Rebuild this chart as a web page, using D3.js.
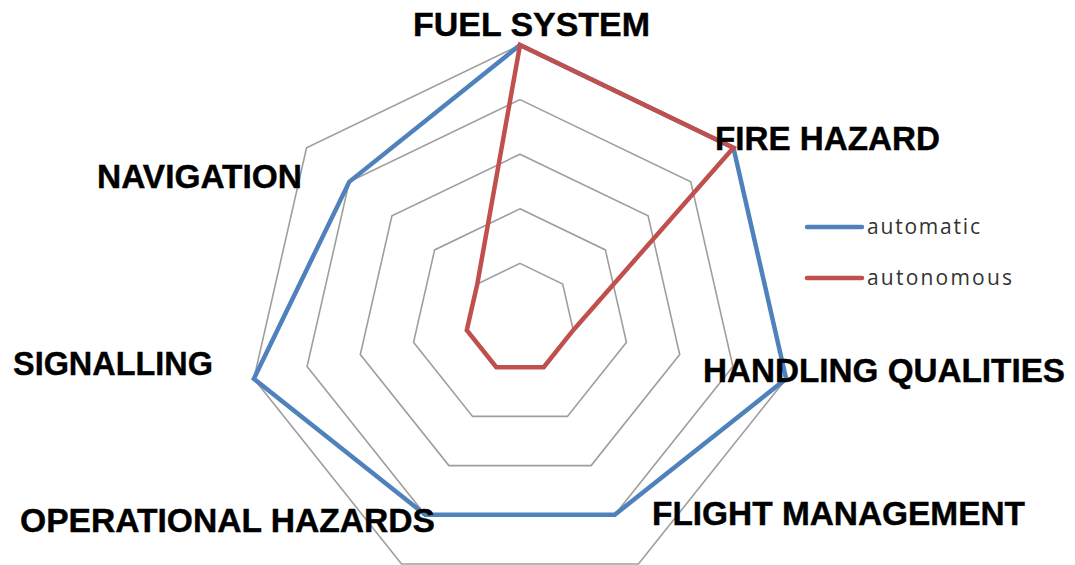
<!DOCTYPE html>
<html>
<head>
<meta charset="utf-8">
<script src="https://cdn.jsdelivr.net/npm/d3@7"></script>
<style>
  html, body { margin: 0; padding: 0; background: #ffffff; }
  svg { display: block; }
</style>
</head>
<body>
<svg id="chart" width="1075" height="565"></svg>
<script>
// Radar chart data: one value per axis, on a 0–5 scale
const categories = [
  "FUEL SYSTEM",
  "FIRE HAZARD",
  "HANDLING QUALITIES",
  "FLIGHT MANAGEMENT",
  "OPERATIONAL HAZARDS",
  "SIGNALLING",
  "NAVIGATION"
];
const seriesNames = ["automatic", "autonomous"];
const automatic = [5, 5, 5, 4, 4, 5, 4];
const autonomous = [5, 5, 1, 1, 1, 1, 1];
const gridLevels = [1, 2, 3, 4, 5];

// Layout
const width = 1075, height = 565;
const cx = 520, cy = 318, radius = 273;
const colors = { automatic: "#4F81BD", autonomous: "#C0504D" };

// Axis label placement: start x, baseline y, rendered width
const labelLayout = [
  { x: 413, y: 36, w: 237 },
  { x: 715, y: 150, w: 225 },
  { x: 703, y: 382, w: 362 },
  { x: 652, y: 525, w: 373 },
  { x: 20, y: 532, w: 415 },
  { x: 13, y: 375, w: 200 },
  { x: 97, y: 188, w: 205 }
];

const svg = d3.select("#chart");

const r = d3.scaleLinear().domain([0, 5]).range([0, radius]);
const angle = d3.scalePoint()
  .domain(categories)
  .range([0, 2 * Math.PI * (categories.length - 1) / categories.length]);

const radial = d3.lineRadial()
  .angle(d => d.a)
  .radius(d => d.r)
  .curve(d3.curveLinearClosed);

const g = svg.append("g").attr("transform", `translate(${cx},${cy})`);

// Concentric heptagon grid
g.selectAll("path.grid")
  .data(gridLevels)
  .join("path")
  .attr("class", "grid")
  .attr("d", lv => radial(categories.map(c => ({ a: angle(c), r: r(lv) }))))
  .attr("fill", "none")
  .attr("stroke", "#9E9E9E")
  .attr("stroke-width", 1.6);

// Series polygons
const series = [
  { name: "automatic", values: automatic },
  { name: "autonomous", values: autonomous }
];

g.selectAll("path.series")
  .data(series)
  .join("path")
  .attr("class", "series")
  .attr("d", s => radial(s.values.map((v, i) => ({ a: angle(categories[i]), r: r(v) }))))
  .attr("fill", "none")
  .attr("stroke", s => colors[s.name])
  .attr("stroke-width", 4.5)
  .attr("stroke-linejoin", "miter");

// Axis labels
svg.selectAll("text.axis-label")
  .data(categories)
  .join("text")
  .attr("class", "axis-label")
  .attr("x", (d, i) => labelLayout[i].x)
  .attr("y", (d, i) => labelLayout[i].y)
  .attr("textLength", (d, i) => labelLayout[i].w)
  .attr("lengthAdjust", "spacingAndGlyphs")
  .attr("font-family", "'Liberation Sans', Arial, sans-serif")
  .attr("font-weight", "bold")
  .attr("font-size", 33)
  .attr("fill", "#000000")
  .attr("stroke", "#000000")
  .attr("stroke-width", 0.4)
  .text(d => d);

// Legend
const legend = svg.append("g").attr("transform", "translate(807,227)");
const legendItems = legend.selectAll("g")
  .data(seriesNames)
  .join("g")
  .attr("transform", (d, i) => `translate(0,${i * 51})`);

legendItems.append("line")
  .attr("x1", 0).attr("x2", 55)
  .attr("y1", 0).attr("y2", 0)
  .attr("stroke", d => colors[d])
  .attr("stroke-width", 4.5)
  .attr("stroke-linecap", "round");

legendItems.append("text")
  .attr("x", 60)
  .attr("y", 7)
  .attr("textLength", d => d === "automatic" ? 113 : 145)
  .attr("lengthAdjust", "spacing")
  .attr("font-family", "'Open Sans', 'DejaVu Sans', sans-serif")
  .attr("font-size", 21)
  .attr("fill", "#333333")
  .text(d => d);
</script>
</body>
</html>
